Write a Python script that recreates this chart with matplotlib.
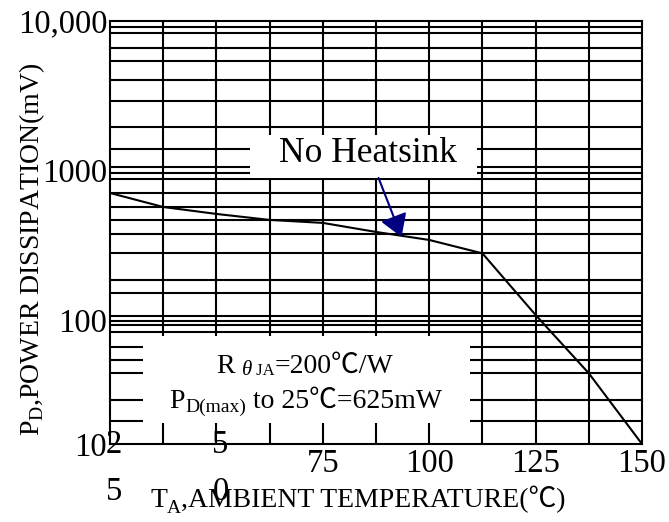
import matplotlib
matplotlib.use("Agg")
import matplotlib.pyplot as plt
from matplotlib import transforms
from matplotlib.patches import Rectangle
from matplotlib.ticker import NullLocator

# ---------------- data ----------------
T = [25, 37.5, 50, 62.5, 75, 87.5, 100, 112.5, 125, 137.5, 150]
P = [707, 570, 512, 467, 446, 388, 343, 279, 108, 44, 14.8]

Y_MIN, Y_MAX = 14.8, 10000
Y_TICKS = [14.8, 100, 1000, 10000]
Y_TICK_LABELS = ["10", "100", "1000", "10,000"]
X_TICKS = [25, 50, 75, 100, 125, 150]
X_TICK_LABELS = ["25", "50", "75", "100", "125", "150"]
STACKED = ["25", "50"]          # labels printed one digit above the other
GRID_X = [37.5, 50, 62.5, 75, 87.5, 100, 112.5, 125, 137.5]
GRID_Y = [9100, 8300, 6600, 5400, 4000, 2900, 1950, 1400, 1050, 960, 880,
          710, 570, 465, 375, 280, 185, 152, 107, 99, 92, 83, 66, 54, 44, 29, 21]
ARROW_TIP = (93.5, 359)
ARROW_TAIL = (88.1, 891)

plt.rcParams["mathtext.fontset"] = "custom"
plt.rcParams["mathtext.rm"] = "Liberation Serif"
FAM = ["Liberation Serif", "Noto Sans CJK SC"]

fig = plt.figure(figsize=(6.69, 5.22), dpi=100)
W, H = 669, 522
ax = fig.add_axes([110 / W, (H - 444) / H, 532 / W, 423 / H])
ax.set_yscale("log")
ax.set_xlim(25, 150)
ax.set_ylim(Y_MIN, Y_MAX)
ax.yaxis.set_minor_locator(NullLocator())
ax.xaxis.set_minor_locator(NullLocator())

for v in GRID_Y:
    ax.axhline(v, color="black", lw=1.5, zorder=1)
for v in GRID_X:
    ax.axvline(v, color="black", lw=1.5, zorder=1)
for s in ax.spines.values():
    s.set_linewidth(1.5)
    s.set_zorder(5)

# white label boxes
ax.add_patch(Rectangle((0.263, 0.630), 0.427, 0.100, transform=ax.transAxes,
                       facecolor="white", edgecolor="none", zorder=2))
ax.add_patch(Rectangle((0.062, 0.050), 0.615, 0.205, transform=ax.transAxes,
                       facecolor="white", edgecolor="none", zorder=2))

ax.plot(T, P, color="black", lw=1.5, zorder=3)

ax.annotate("", xy=ARROW_TIP, xytext=ARROW_TAIL,
            arrowprops=dict(arrowstyle="-|>,head_length=0.45,head_width=0.28",
                            color="#000080", lw=1.5, mutation_scale=30,
                            shrinkA=0, shrinkB=0), zorder=6)

ax.set_yticks(Y_TICKS, Y_TICK_LABELS)
ax.set_xticks(X_TICKS, [l if l not in STACKED else "" for l in X_TICK_LABELS])
ax.tick_params(axis="both", length=0, labelsize=23.5)
ax.tick_params(axis="y", pad=2)
ax.tick_params(axis="x", pad=3)
for lab in ax.get_xticklabels() + ax.get_yticklabels():
    lab.set_family(FAM)

blend = transforms.blended_transform_factory(ax.transData, ax.transAxes)
for x, lab in zip(X_TICKS, X_TICK_LABELS):
    if lab in STACKED:
        for i, ch in enumerate(lab):
            ax.text(x, 0, ch, family=FAM, fontsize=23.5, ha="center", va="center",
                    transform=transforms.offset_copy(blend, fig=fig, x=4, y=-1 - 47 * i,
                                                     units="dots"), zorder=6)

renderer = fig.canvas.get_renderer()


def rich_text(x, y, pieces, transform):
    items = []
    for s, size, dy, style in pieces:
        t = ax.text(x, y, s, transform=transform, fontsize=size, fontstyle=style,
                    family=FAM, ha="left", va="baseline", zorder=6, clip_on=False)
        w = t.get_window_extent(renderer).width
        items.append((t, dy, w))
    cur = -sum(w for _, _, w in items) / 2
    for t, dy, w in items:
        t.set_transform(transforms.offset_copy(transform, fig=fig, x=cur, y=dy, units="dots"))
        cur += w


rich_text(0.485, 0.667, [("No Heatsink", 25.5, 0, "normal")], ax.transAxes)
rich_text(0.367, 0.168, [("R ", 20, 0, "normal"), ("\u03b8", 15, -2, "italic"),
                         (" JA", 12, -2, "normal"), ("=200\u2103/W", 20, 0, "normal")],
          ax.transAxes)
rich_text(0.368, 0.085, [("P", 20, 0, "normal"), ("D(max)", 14, -4, "normal"),
                         (" to 25\u2103=625mW", 20, 0, "normal")], ax.transAxes)
rich_text(0.466, -0.149, [("T", 20, 0, "normal"), ("A", 14, -6, "normal"),
                          (",AMBIENT TEMPERATURE(\u2103)", 20, 0, "normal")], ax.transAxes)

fig.text(32 / W, (H - 249) / H, r"P$_{\mathrm{D}}$,POWER DISSIPATION(mV)", rotation=90,
         fontsize=20, family="Liberation Serif", ha="center", va="center")

fig.savefig("out.png", dpi=100)
